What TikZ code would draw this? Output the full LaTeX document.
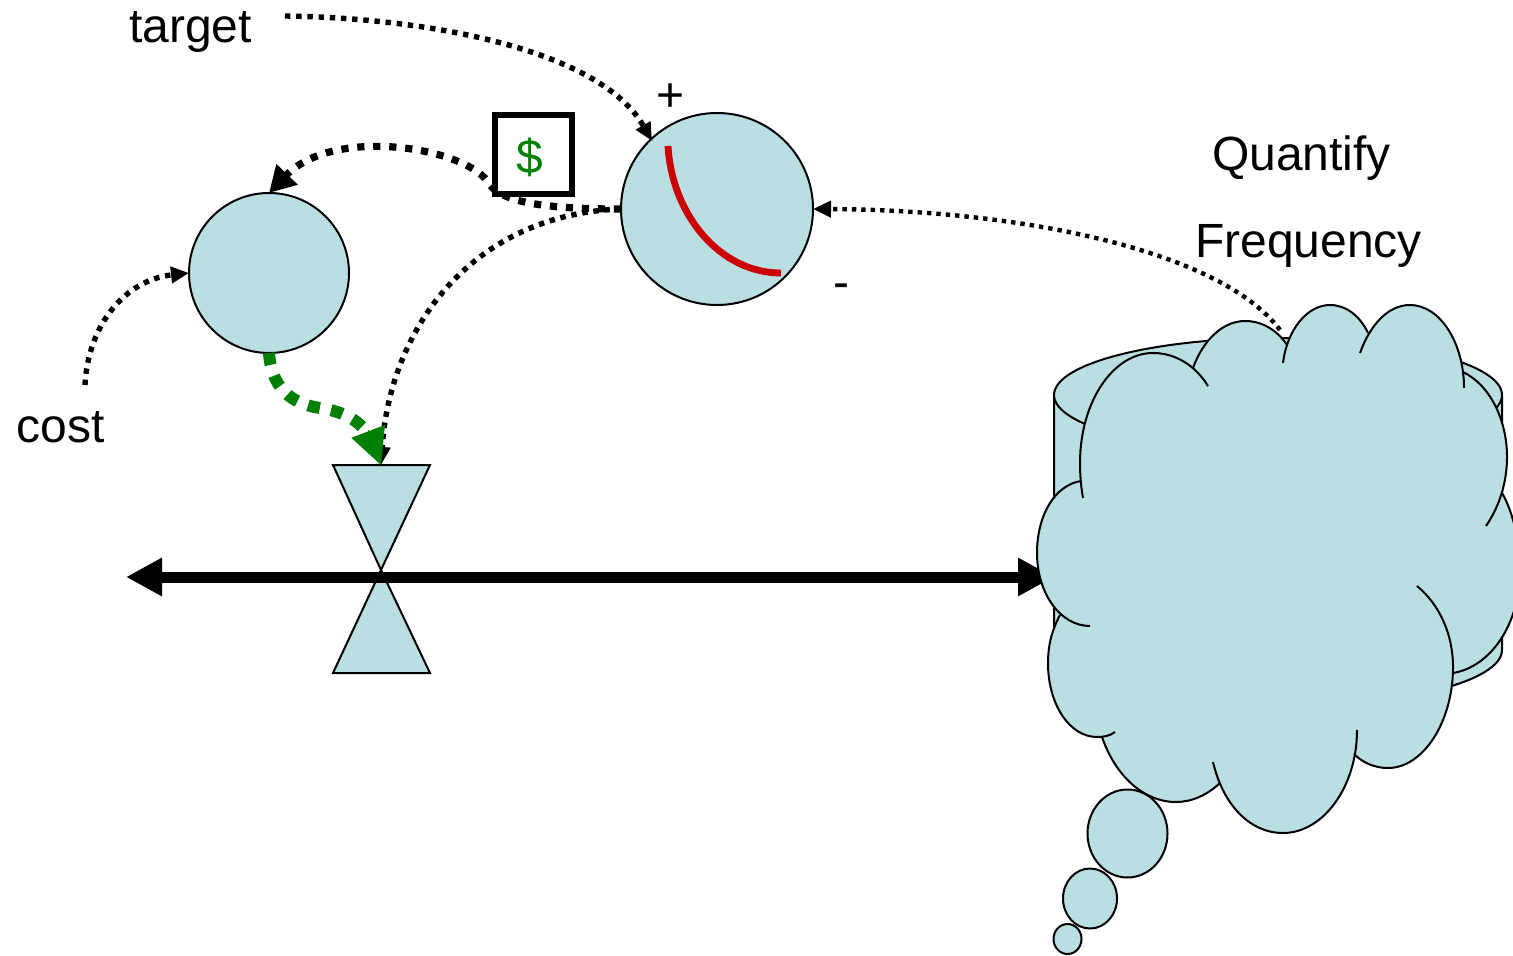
\documentclass[tikz,border=0pt]{standalone}
\usepackage{fontspec}
\setmainfont{Liberation Sans}
\usetikzlibrary{arrows.meta}
\definecolor{bluefill}{HTML}{B9DFE3}
\definecolor{dgreen}{HTML}{008000}
\definecolor{dred}{HTML}{CC0000}
\newcommand\allLobes{%
\lobe{(1083,498) .. controls (1081,487) and (1080,475) .. (1080,463) .. controls (1080,402) and (1113,353) .. (1153,353) .. controls (1175,353) and (1195,365) .. (1208,386)}
\lobe{(1193,368) .. controls (1203,340) and (1223,321) .. (1245,321) .. controls (1262,321) and (1277,330) .. (1287,345)}
\lobe{(1283,363) .. controls (1287,330) and (1307,305) .. (1330,305) .. controls (1346,305) and (1360,316) .. (1368,333)}
\lobe{(1360,353) .. controls (1370,325) and (1388,305) .. (1410,305) .. controls (1440,305) and (1464,343) .. (1464,388)}
\lobe{(1463,372) .. controls (1490,385) and (1507,420) .. (1507,457) .. controls (1507,483) and (1499,507) .. (1486,526)}
\lobe{(1502,493) .. controls (1512,510) and (1520,540) .. (1520,570) .. controls (1520,625) and (1490,667) .. (1453,673)}
\lobe{(1417,586) .. controls (1440,605) and (1453,635) .. (1453,667) .. controls (1453,722) and (1423,768) .. (1388,768) .. controls (1375,768) and (1363,763) .. (1354,754)}
\lobe{(1357,730) .. controls (1357,787) and (1323,833) .. (1283,833) .. controls (1250,833) and (1223,805) .. (1213,762)}
\lobe{(1220,783) .. controls (1207,795) and (1192,802) .. (1176,802) .. controls (1143,802) and (1115,775) .. (1102,737)}
\lobe{(1115,732) .. controls (1110,736) and (1103,737) .. (1097,737) .. controls (1070,737) and (1048,705) .. (1048,663) .. controls (1048,645) and (1052,630) .. (1060,615)}
\lobe{(1090,626) .. controls (1060,626) and (1037,593) .. (1037,553) .. controls (1037,515) and (1055,485) .. (1081,481)}
}
\tikzset{
  outl/.style={draw=black,line width=1pt},
  shapefill/.style={fill=bluefill,outl},
  seamless/.style={fill=bluefill,draw=bluefill,line width=0.6pt},
  circ/.style={circle,shapefill,inner sep=0pt,outer sep=0pt},
  lbl/.style={inner sep=0pt,outer sep=0pt,anchor=base west,font=\fontsize{24}{28}\selectfont},
  lblc/.style={inner sep=0pt,outer sep=0pt,anchor=base,font=\fontsize{24}{28}\selectfont},
  dotA/.style={line width=2.7pt,dash pattern=on 2.7pt off 2.9pt,-{Triangle[length=9pt,width=8pt]}},
  dotB/.style={line width=3.6pt,dash pattern=on 3.6pt off 4.4pt,-{Triangle[length=13pt,width=14pt]}},
  dotC/.style={line width=2.2pt,dash pattern=on 2.2pt off 2.5pt,-{Triangle[length=9pt,width=8pt]}},
}
\begin{document}
\begin{tikzpicture}[x=0.5pt,y=-0.5pt]
\useasboundingbox (0,0) rectangle (1513,956);
% cylinder
\path[shapefill] (1054,395) -- (1054,650) arc[start angle=180,end angle=0,x radius=224,y radius=57] -- (1502,395);
\fill[bluefill] (1278,395) ellipse[x radius=224,y radius=57];
\draw[outl] (1278,395) ellipse[x radius=224,y radius=57];
% nodes
\node[circ,minimum size=96pt] (c1) at (717,209) {};
\node[circ,minimum size=80pt] (c2) at (269,273) {};
\node[draw=black,line width=3pt,fill=white,inner sep=0pt,outer sep=0pt,minimum width=38.5pt,minimum height=39.5pt] (box) at (533.5,154.5) {};
\node[lblc,text=dgreen] (dollar) at (530,174) {\$};
\node[lbl] (target) at (129,43) {target};
\node[lbl] (cost) at (17,443) {cost};
\node[lbl] (quant) at (1212,171) {Quantify};
\node[lbl] (freq) at (1195,258) {Frequency};
\node[lblc] (plus) at (671,112) {+};
\node[lblc] (minus) at (841,299) {-};
\coordinate (vtop) at (381,465);
\coordinate (vmid) at (381,570);
\coordinate (tstart) at (285,16);
\coordinate (cstart) at (85,385);
\coordinate (fstart) at (1280,330);
\coordinate (arrowL) at (126,577);
\coordinate (arrowR) at (1054,577);
\coordinate (rs) at (668,146);
\coordinate (re) at (781,273);
% valve
\draw[shapefill] (333,465) -- (430,465) -- (vmid) -- cycle;
\draw[shapefill] (vmid) -- (430,673) -- (333,673) -- cycle;
% red arc
\draw[dred,line width=3.4pt] (rs) .. controls (672,215) and (720,273) .. (re);
% connectors
\draw[dotA] (tstart) .. controls (430,18) and (600,50) .. (652,141);
\draw[dotB] (c1.west) .. controls (560,209) and (505,205) .. (490,185) .. controls (470,148) and (335,125) .. (c2.north);
\draw[dotA] (c1.west) .. controls (475,214) and (390,325) .. (vtop);
\draw[dotC] (fstart) .. controls (1220,250) and (1020,210) .. (c1.east);
\draw[dotA] (cstart) .. controls (88,325) and (125,280) .. (c2.west);
\draw[dgreen,line width=6pt,dash pattern=on 6pt off 5.7pt] (c2.south) .. controls (272,395) and (300,405) .. (320,408) .. controls (345,412) and (358,420) .. (370,436);
\draw[dgreen,line width=0pt,-{Triangle[length=18pt,width=18pt]}] (368,431) -- (vtop);
\draw[line width=5.5pt,{Triangle[length=18pt,width=18pt]}-{Triangle[length=18pt,width=18pt]}] (arrowL) -- (arrowR);
% cloud
\def\lobe#1{\path[seamless] #1 -- cycle;}
\allLobes
\path[seamless] (1081,481) -- (1100,420) -- (1193,368) -- (1287,345) -- (1368,333) -- (1464,372) -- (1502,493) -- (1453,673) -- (1354,754) -- (1283,780) -- (1220,783) -- (1102,737) -- (1060,615) -- (1045,550) -- cycle;
\def\lobe#1{\draw[outl] #1;}
\allLobes
% bubbles
\draw[shapefill] (1127.5,833.5) ellipse[x radius=40,y radius=44];
\draw[shapefill] (1090,898.5) ellipse[x radius=27,y radius=30];
\draw[shapefill] (1067.5,939) ellipse[x radius=14,y radius=15];
\end{tikzpicture}
\end{document}
